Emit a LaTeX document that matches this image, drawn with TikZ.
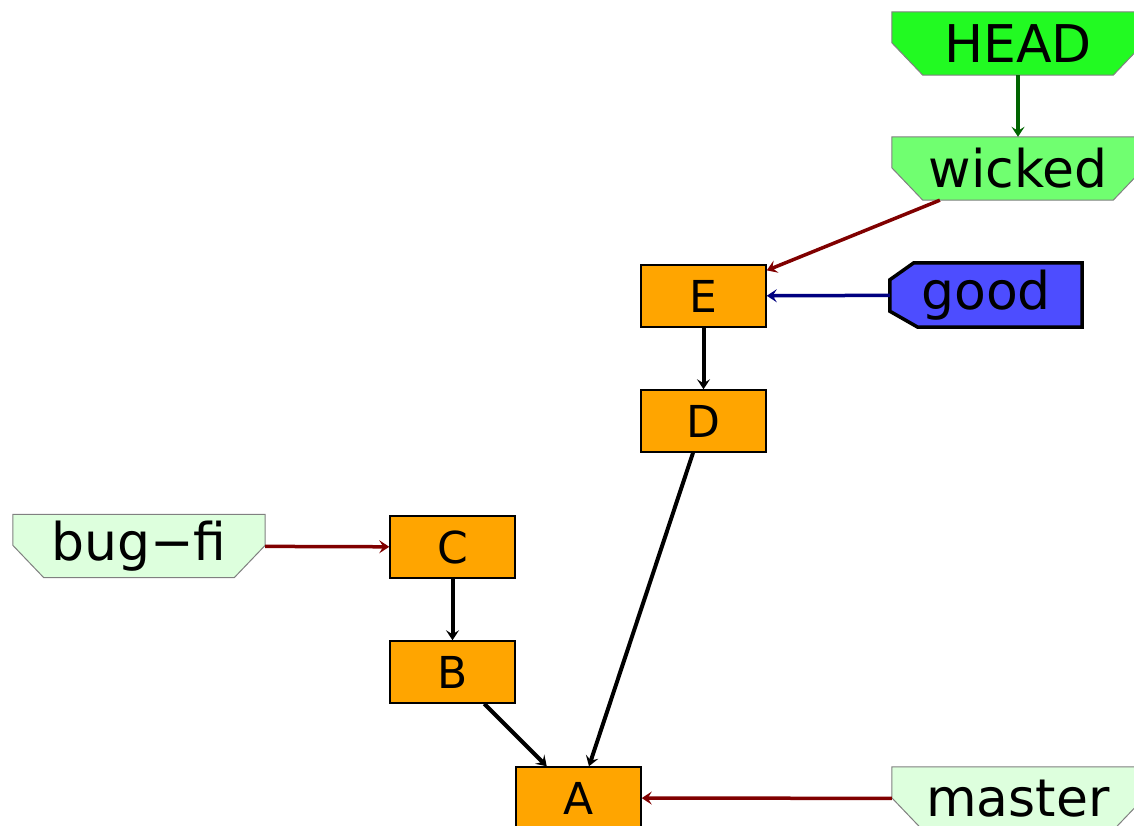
\documentclass[tikz,border=0pt]{standalone}
\usepackage{fontspec}
\setmainfont{DejaVu Sans}
\usetikzlibrary{arrows.meta,backgrounds}

\definecolor{commitorange}{HTML}{FFA500}
\definecolor{headgreen}{HTML}{22FA22}
\definecolor{wickedgreen}{HTML}{70FF70}
\definecolor{palegreen}{HTML}{DDFFDD}
\definecolor{goodblue}{HTML}{4D4DFF}
\definecolor{refred}{HTML}{800000}
\definecolor{headedge}{HTML}{006400}
\definecolor{goodedge}{HTML}{000080}

\begin{document}
\begin{tikzpicture}[x=1pt,y=-1pt,
  commit/.style={fill=commitorange,draw=black,line width=1.5pt,minimum width=125pt,minimum height=62pt,inner sep=0pt,font=\fontsize{44}{44}\selectfont},
  branch/.style={minimum width=252pt,minimum height=63pt,inner sep=0pt,font=\fontsize{52}{52}\selectfont},
  tagbox/.style={minimum width=192pt,minimum height=64pt,inner sep=0pt,font=\fontsize{52}{52}\selectfont},
  link/.style={line width=3.5pt,-{Stealth[length=10pt,width=13pt,inset=4pt]}}]
\useasboundingbox (0,0) rectangle (1134,826);

% commits
\node (E) at (703.5,296) [commit]{E};
\node (D) at (703.5,421) [commit]{D};
\node (C) at (452.5,547) [commit]{C};
\node (B) at (452.5,672) [commit]{B};
\node (A) at (578.5,798) [commit]{A};

% refs
\node (HEAD) at (1018,43.5) [branch]{HEAD};
\node (wicked) at (1018,168.5) [branch]{wicked};
\node (good) at (986,295) [tagbox]{good};
\node (bugfi) at (139,546) [branch]{bug−fi};
\node (master) at (1018,798.5) [branch]{master};

% outlines of the refs, cut at the corners
\begin{scope}[on background layer]
\foreach \r/\c in {HEAD/headgreen,wicked/wickedgreen,bugfi/palegreen,master/palegreen}
  \draw [draw=gray,fill=\c,line width=1pt] (\r.north west) -- (\r.north east)
    -- ([yshift=-31pt]\r.north east) -- ([xshift=-31pt]\r.south east)
    -- ([xshift=31pt]\r.south west) -- ([yshift=-31pt]\r.north west) -- cycle;
\draw [draw=black,fill=goodblue,line width=3.5pt] ([xshift=24pt]good.north west) -- (good.north east)
  -- (good.south east) -- ([xshift=28pt]good.south west)
  -- ([yshift=16pt]good.south west) -- ([yshift=-17pt]good.north west) -- cycle;
\end{scope}

\draw [link,headedge] (HEAD) -- (wicked);
\draw [link,refred] (wicked) -- (E);
\draw [link,goodedge] (good) -- (E);
\draw [link,line width=4pt] (E) -- (D);
\draw [link,line width=4pt] (D) -- (A);
\draw [link,refred] (bugfi) -- (C);
\draw [link,line width=4pt] (C) -- (B);
\draw [link,line width=4pt] (B) -- (A);
\draw [link,refred] (master) -- (A);

\end{tikzpicture}
\end{document}
